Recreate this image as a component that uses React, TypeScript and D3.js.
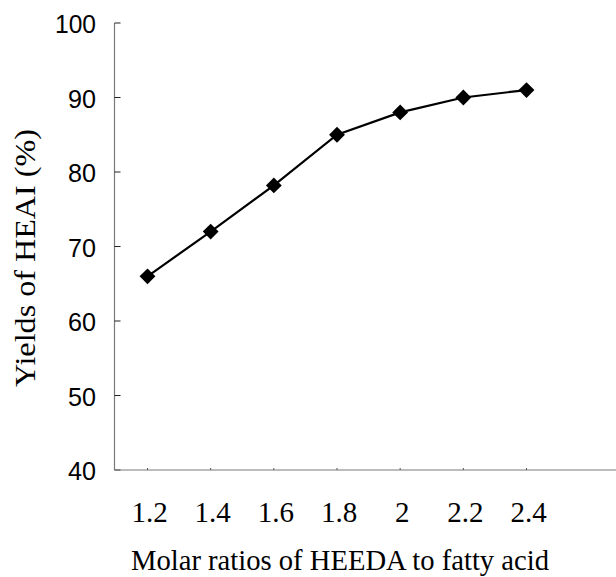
import React from 'react';
import * as d3 from 'd3';

// Molar ratio of HEEDA to fatty acid vs. yield of HEAI
const ratios = [1.2, 1.4, 1.6, 1.8, 2.0, 2.2, 2.4];
const yields = [66, 72, 78.2, 85, 88, 90, 91];
const xTickLabels = ['1.2', '1.4', '1.6', '1.8', '2', '2.2', '2.4'];
const yTicks = [40, 50, 60, 70, 80, 90, 100];

const W = 616;
const H = 577;

export default function App() {
  // plot frame
  const left = 114.5;
  const bottom = 470;
  const top = 23;

  const x = d3.scaleLinear().domain([1.2, 2.4]).range([147.5, 526.5]);
  const y = d3.scaleLinear().domain([40, 100]).range([bottom, top]);

  const line = d3
    .line<number>()
    .x((_, i) => x(ratios[i]))
    .y(d => y(d));

  const diamond = d3.symbol().type(d3.symbolDiamond2).size(160)();

  const axisColor = '#7a7a7a';
  const serif = '"Liberation Serif", "Times New Roman", serif';
  const sans = '"Liberation Sans", Arial, sans-serif';

  return (
    <svg
      width={W}
      height={H}
      style={{ position: 'absolute', left: 0, top: 0, background: '#fff' }}
    >
      {/* y axis */}
      <line x1={left} x2={left} y1={top} y2={bottom} stroke={axisColor} strokeWidth={1.2} />
      {yTicks.map(t => (
        <g key={t}>
          <line x1={left} x2={left + 6} y1={y(t)} y2={y(t)} stroke="#222" strokeWidth={1} />
          <text
            x={96}
            y={y(t) + 1}
            textAnchor="end"
            dominantBaseline="central"
            fontFamily={sans}
            fontSize={26}
            textLength={t === 100 ? 41 : 28}
            lengthAdjust="spacingAndGlyphs"
            fill="#000"
          >
            {t}
          </text>
        </g>
      ))}

      {/* x axis */}
      <line x1={left} x2={W} y1={bottom} y2={bottom} stroke={axisColor} strokeWidth={1.2} />
      {ratios.map((r, i) => (
        <g key={r}>
          <line x1={x(r)} x2={x(r)} y1={bottom} y2={bottom - 2} stroke="#555" strokeWidth={1} />
          <text
            x={x(r) + 2}
            y={522}
            textAnchor="middle"
            fontFamily={serif}
            fontSize={29}
            fill="#000"
          >
            {xTickLabels[i]}
          </text>
        </g>
      ))}

      {/* series */}
      <path d={line(yields) ?? ''} fill="none" stroke="#000" strokeWidth={2.2} />
      {yields.map((v, i) => (
        <path
          key={i}
          d={diamond ?? ''}
          transform={`translate(${x(ratios[i])},${y(v)})`}
          fill="#000"
        />
      ))}

      {/* axis titles */}
      <text
        x={340}
        y={570}
        textAnchor="middle"
        fontFamily={serif}
        fontSize={30}
        textLength={418}
        lengthAdjust="spacingAndGlyphs"
        fill="#000"
      >
        Molar ratios of HEEDA to fatty acid
      </text>
      <text
        transform={`translate(35,258) rotate(-90)`}
        textAnchor="middle"
        fontFamily={serif}
        fontSize={30}
        textLength={258}
        lengthAdjust="spacingAndGlyphs"
        fill="#000"
      >
        Yields of HEAI (%)
      </text>
    </svg>
  );
}
